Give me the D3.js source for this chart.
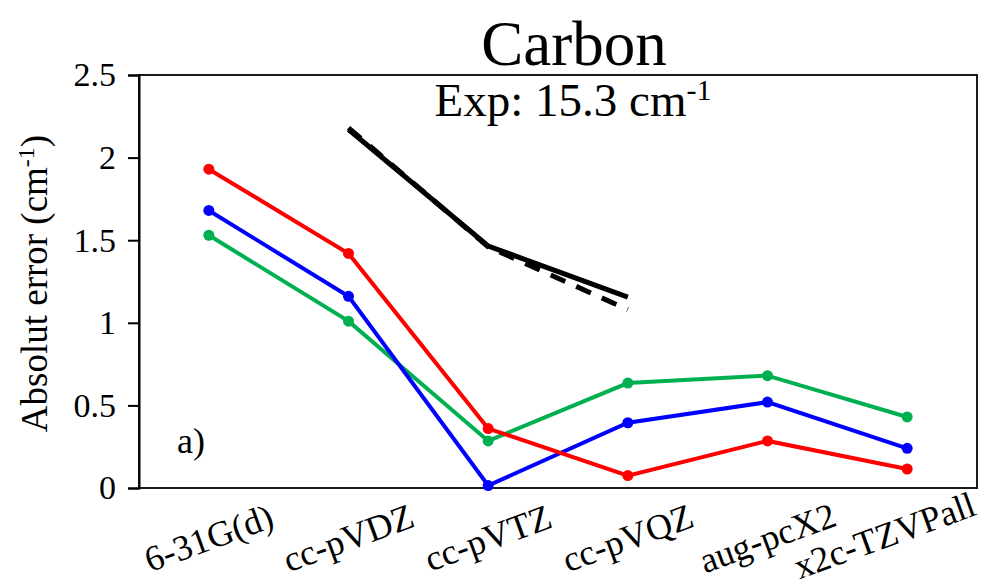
<!DOCTYPE html>
<html>
<head>
<meta charset="utf-8">
<script src="https://cdn.jsdelivr.net/npm/d3@7"></script>
<style>
  body { margin: 0; background: #fff; }
  svg text { font-family: "Liberation Serif", "Times New Roman", serif; fill: #000; }
</style>
</head>
<body>
<svg id="chart" width="985" height="587"></svg>
<script>
const basisSets = ['6-31G(d)', 'cc-pVDZ', 'cc-pVTZ', 'cc-pVQZ', 'aug-pcX2', 'x2c-TZVPall'];
const redValues = [1.93, 1.42, 0.36, 0.075, 0.285, 0.115];
const blueValues = [1.68, 1.16, 0.015, 0.395, 0.52, 0.24];
const greenValues = [1.53, 1.01, 0.285, 0.635, 0.68, 0.43];
const blackSolid = [null, 2.17, 1.465, 1.155, null, null];
const blackDashed = [null, 2.18, 1.46, 1.08, null, null];
const yTicks = [0, 0.5, 1, 1.5, 2, 2.5];

const width = 985, height = 587;
const margin = { top: 75, right: 8, bottom: 99, left: 139 };

const svg = d3.select('#chart');

const x = d3.scaleBand()
  .domain(basisSets)
  .range([margin.left, width - margin.right]);

const y = d3.scaleLinear()
  .domain([0, 2.5])
  .range([height - margin.bottom, margin.top]);

const cx = d => x(d) + x.bandwidth() / 2;

// plot frame
svg.append('rect')
  .attr('x', margin.left)
  .attr('y', margin.top)
  .attr('width', width - margin.left - margin.right)
  .attr('height', height - margin.top - margin.bottom)
  .attr('fill', 'none')
  .attr('stroke', '#1a1a1a')
  .attr('stroke-width', 2);

// y axis
const yAxis = svg.append('g')
  .attr('transform', `translate(${margin.left},0)`)
  .call(d3.axisLeft(y).tickValues(yTicks).tickFormat(d3.format('')).tickSize(11).tickPadding(12));
yAxis.select('.domain').attr('stroke', '#000').attr('stroke-width', 2);
yAxis.selectAll('.tick line').attr('stroke', '#000').attr('stroke-width', 2);
yAxis.selectAll('.tick text')
  .attr('font-family', '"Liberation Serif", serif')
  .style('font-size', '34px')
  .attr('fill', '#000');

// x labels, rotated; the last one is pushed left to stay inside the page
const xLabels = svg.append('g');
xLabels.selectAll('text')
  .data(basisSets)
  .join('text')
  .attr('text-anchor', 'middle')
  .attr('dominant-baseline', 'central')
  .style('font-size', '36px')
  .text(d => d)
  .each(function(d) {
    const w = this.getComputedTextLength();
    const ang = 20 * Math.PI / 180;
    const halfW = (w * Math.cos(ang) + 36 * Math.sin(ang)) / 2;
    const halfH = (w * Math.sin(ang) + 36 * Math.cos(ang)) / 2;
    let px = cx(d);
    let py = 538;
    if (px + halfW > 980) px = 980 - halfW;
    if (py + halfH > 585) py = 585 - halfH;
    d3.select(this).attr('transform', `translate(${px},${py}) rotate(-20)`);
  });

// y axis title
const yTitle = svg.append('text')
  .attr('transform', `translate(47,${(margin.top + height - margin.bottom) / 2 + 2}) rotate(-90)`)
  .attr('text-anchor', 'middle')
  .style('font-size', '37px');
yTitle.append('tspan').text('Absolut error (cm');
yTitle.append('tspan').attr('dy', -13).style('font-size', '24px').text('-1');
yTitle.append('tspan').attr('dy', 13).text(')');

// titles
svg.append('text')
  .attr('x', 574).attr('y', 65)
  .attr('text-anchor', 'middle')
  .style('font-size', '63px')
  .text('Carbon');

const expText = svg.append('text')
  .attr('x', 573).attr('y', 116)
  .attr('text-anchor', 'middle')
  .style('font-size', '47px');
expText.append('tspan').text('Exp: 15.3 cm');
expText.append('tspan').attr('dy', -16).style('font-size', '30px').text('-1');

svg.append('text')
  .attr('x', 177).attr('y', 453)
  .style('font-size', '36px')
  .text('a)');

// black lines (no markers)
const line = d3.line()
  .defined(d => d.v != null)
  .x(d => cx(d.k))
  .y(d => y(d.v));

const toPoints = vals => basisSets.map((k, i) => ({ k, v: vals[i] }));

svg.append('path')
  .datum(toPoints(blackDashed))
  .attr('d', line)
  .attr('fill', 'none')
  .attr('stroke', '#000')
  .attr('stroke-width', 5)
  .attr('stroke-dasharray', '16,12');

svg.append('path')
  .datum(toPoints(blackSolid))
  .attr('d', line)
  .attr('fill', 'none')
  .attr('stroke', '#000')
  .attr('stroke-width', 5);

// coloured series with markers
const series = [
  { name: 'green', color: '#00b050', values: greenValues },
  { name: 'blue', color: '#0000ff', values: blueValues },
  { name: 'red', color: '#ff0000', values: redValues },
];

series.forEach(s => {
  const pts = toPoints(s.values);
  svg.append('path')
    .datum(pts)
    .attr('d', line)
    .attr('fill', 'none')
    .attr('stroke', s.color)
    .attr('stroke-width', 4);
  svg.append('g')
    .selectAll('circle')
    .data(pts)
    .join('circle')
    .attr('cx', d => cx(d.k))
    .attr('cy', d => y(d.v))
    .attr('r', 5.5)
    .attr('fill', s.color);
});
</script>
</body>
</html>
